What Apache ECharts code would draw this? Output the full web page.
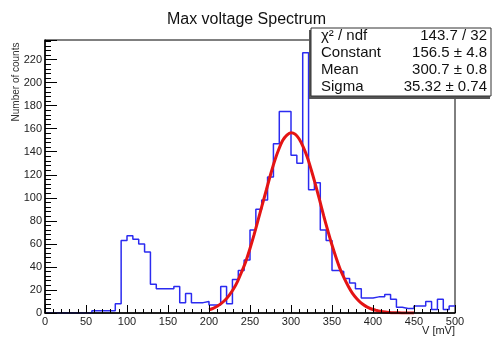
<!DOCTYPE html>
<html><head><meta charset="utf-8">
<script src="https://cdn.jsdelivr.net/npm/echarts@6/dist/echarts.min.js"></script>
<style>html,body{margin:0;padding:0;background:#fff;}#c{width:493px;height:341px;}</style>
</head><body><div id="c"></div>
<script>
// Histogram: 70 bins over 0-500 mV
const xMin = 0, xMax = 500;
const counts = [0,0,0,0,0,0,0,0,2,2,2,2,8,63,67,64,60,53,25,21,21,21,23,9,17,9,9,10,7,7,
  23,8,29,37,46,72,90,98,118,147,175,175,137,130,226,107,113,72,63,37,
  36,30,26,21,13,13,14,14,16,12,5,4,4,6,6,10,3,12,3,6];
// Fit curve (every 5 mV)
const fitX = [200,205,210,215,220,225,230,235,240,245,250,255,260,265,270,275,280,285,290,295,300,
  305,310,315,320,325,330,335,340,345,350,355,360,365,370,375,380,385,390,395,400,405,410,415,420,425,430,435,440,445,450];
const fitY = [2.7,4,5.8,8.3,11.5,15.8,21,27.7,36,45,56,68,81,94,107,120,132,142,150,154.5,156.5,
  155.3,151,144,135,123.5,111,97.7,84,71.3,59,48,38,30,23,17,12.6,9,6.4,4.4,3,2.1,1.3,0.8,0.5,0.3,0.2,0.1,0.1,0.05,0];
const yTickLabels = [0,20,40,60,80,100,120,140,160,180,200,220];
const xTickLabels = [0,50,100,150,200,250,300,350,400,450,500];
const statsLabels = ['χ² / ndf','Constant','Mean','Sigma'];
const statsValues = ['143.7 / 32','156.5 ± 4.8','300.7 ± 0.8','35.32 ± 0.74'];

const FONT = "'Liberation Sans', Arial, sans-serif";
const binW = (xMax - xMin) / counts.length;
const histData = counts.map((v, i) => [xMin + i * binW, v]);
histData.push([xMax, counts[counts.length - 1]]);
const fitData = fitX.map((x, i) => [x, fitY[i]]);

const statsGraphics = [
  {type:'rect', z:100, shape:{x:309,y:30,width:181,height:69}, style:{fill:'#555'}},
  {type:'rect', z:101, shape:{x:311,y:28,width:180,height:68}, style:{fill:'#fff', stroke:'#333', lineWidth:1}}
];
statsLabels.forEach((t, i) => {
  statsGraphics.push({type:'text', z:102, x:321, y:36 + i*17, style:{text:t, font:'15px ' + FONT, fill:'#111', textAlign:'left', textVerticalAlign:'middle'}});
  statsGraphics.push({type:'text', z:102, x:487, y:36 + i*17, style:{text:statsValues[i], font:'15px ' + FONT, fill:'#111', textAlign:'right', textVerticalAlign:'middle'}});
});

const chart = echarts.init(document.getElementById('c'));
chart.setOption({
  animation: false,
  backgroundColor: '#fff',
  title: {text: 'Max voltage Spectrum', left: 'center', top: 7,
    textStyle: {fontFamily: FONT, fontSize: 16, fontWeight: 'normal', color: '#111'}},
  grid: {left: 45, right: 38, top: 40, bottom: 28, show: true, borderColor: '#000', borderWidth: 1},
  xAxis: {
    type: 'value', min: xMin, max: xMax, interval: 50, z: 5,
    axisLine: {lineStyle: {color: '#000', width: 1.5}},
    axisTick: {inside: true, length: 8, lineStyle: {color: '#000'}},
    minorTick: {show: true, splitNumber: 5, length: 4, lineStyle: {color: '#000'}},
    splitLine: {show: false},
    axisLabel: {fontFamily: FONT, fontSize: 11, color: '#222', margin: 3,
      formatter: v => xTickLabels.includes(v) ? String(v) : ''}
  },
  yAxis: {
    type: 'value', min: 0, max: 237, interval: 20, z: 5,
    axisLine: {show: true, lineStyle: {color: '#000', width: 1.5}},
    axisTick: {show: true, inside: true, length: 12, lineStyle: {color: '#000'}},
    minorTick: {show: true, splitNumber: 5, length: 6, lineStyle: {color: '#000'}},
    splitLine: {show: false},
    axisLabel: {fontFamily: FONT, fontSize: 11, color: '#222', margin: 3, showMaxLabel: false,
      formatter: v => yTickLabels.includes(v) ? String(v) : ''}
  },
  graphic: [
    {type:'text', x:16, y:82, rotation: Math.PI/2, style:{text:'Number of counts', font:'10px ' + FONT, fill:'#333', textAlign:'center', textVerticalAlign:'middle'}},
    {type:'text', x:455, y:331, style:{text:'V [mV]', font:'11px ' + FONT, fill:'#222', textAlign:'right', textVerticalAlign:'middle'}}
  ].concat(statsGraphics),
  series: [
    {type: 'line', data: histData, step: 'end', symbol: 'none', z: 2,
      lineStyle: {color: '#2b2bf0', width: 1.5}},
    {type: 'line', data: fitData, smooth: 0.3, symbol: 'none', z: 3,
      lineStyle: {color: '#e41414', width: 3}}
  ]
});
</script></body></html>
